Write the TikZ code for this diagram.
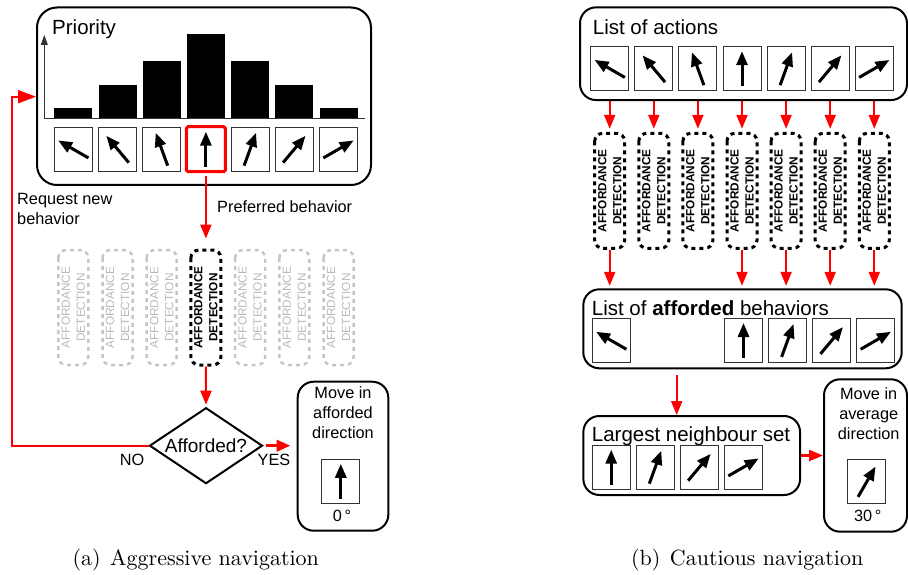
\documentclass[tikz,border=0pt]{standalone}
\usepackage{fontspec}
\setsansfont{Liberation Sans}
\newfontfamily\capfont{lmroman10-regular.otf}
\usetikzlibrary{arrows.meta,positioning,calc,shapes.geometric}
\newcommand{\bigtxt}{\sffamily\fontsize{20.5}{24}\selectfont}
\newcommand{\midtxt}{\sffamily\fontsize{16.3}{20}\selectfont}
\newcommand{\afftxt}{\sffamily\bfseries\fontsize{11.8}{15}\selectfont}
\newcommand{\captxt}{\capfont\fontsize{22}{26}\selectfont}
\newcommand{\dirarrow}[2]{%
  \draw[dir] ($(#1)+({270-(#2)}:17.5pt)$) -- ($(#1)+({90-(#2)}:17.5pt)$);}
\tikzset{
  >={Triangle[length=14pt,width=11pt]},
  panel/.style ={draw, line width=2pt, rounded corners=16pt, inner sep=0pt},
  actbox/.style={draw=black!80, line width=0.9pt, minimum width=38pt,
                 minimum height=44pt, inner sep=0pt},
  pick/.style  ={draw=red, line width=3pt, rounded corners=1.5pt},
  affon/.style ={draw, line width=3pt, dash pattern=on 4pt off 4pt,
                 rounded corners=8pt, rotate=90, minimum width=115pt,
                 minimum height=30pt, inner sep=0pt, align=center, font=\afftxt},
  affoff/.style={affon, draw=gray!45, text=gray!55, line width=2.5pt,
                 font=\afftxt\mdseries},
  dir/.style   ={-{Triangle[length=14pt,width=11pt]}, line width=3pt},
  flow/.style  ={->, draw=red, line width=2pt},
  lbl/.style   ={font=\midtxt, inner sep=0pt},
}
\begin{document}
\begin{tikzpicture}[x=1pt,y=-1pt]
\useasboundingbox (0,0) rectangle (908,575);
% ---- (a) aggressive navigation --------------------------------------
\node[panel, rounded corners=20pt, minimum width=334pt, minimum height=177.5pt] (prio) at (204,96.25) {};
\node[font=\bigtxt, anchor=base west, inner sep=0pt] (prioT) at (52,34.3) {Priority};
\coordinate (orig) at (44.3,118.3);
\draw[line width=0.8pt, black!80, -{Triangle[length=10pt,width=7pt]}] (orig) -- ++(0,-83.3);
\draw[line width=0.8pt, black!80] (orig) -- ++(320.7,0);
\foreach \i/\h in {1/10.6,2/33.3,3/57.6,4/84,5/57.6,6/33.3,7/10.6}
  \fill ({73.3+44.2*(\i-1)-19},118.3) rectangle ++(38,-\h);
\foreach \i/\a in {1/-60,2/-40,3/-20,4/0,5/20,6/40,7/60} {
  \node[actbox] (actL\i) at ({73.3+44.2*(\i-1)},149.2) {};
  \dirarrow{actL\i}{\a}
}
\draw[pick] (actL4.south west) rectangle (actL4.north east);

% affordance detectors, only the preferred one is active
\foreach \i in {1,2,3,5,6,7}
  \node[affoff] (affL\i) at ({73.3+44.2*(\i-1)},307.5) {AFFORDANCE\\DETECTION};
\node[affon] (affL4) at (205.9,307.5) {AFFORDANCE\\DETECTION};
\draw[flow, shorten <=4pt, shorten >=10pt] (actL4) -- (affL4);
\node[lbl, anchor=base west] (prefT) at (217,212) {Preferred behavior};

\node[diamond, draw, line width=2pt, aspect=1.49, minimum width=113pt,
      minimum height=76pt, inner sep=0pt, font=\sffamily\fontsize{19}{22}\selectfont]
      (dia) at (206,445.7) {Afforded?};
\draw[flow, shorten >=2pt] (affL4) -- (dia);
\coordinate (reqC) at (12.3,96.7);
\draw[flow, -{Triangle[length=18pt,width=13pt]}] (dia.west) -| (reqC) -- (prio.west |- reqC);
\node[lbl, anchor=north west, align=left] (reqT) at (17,193.5) {Request new\\behavior};
\node[lbl, anchor=base] (noT) at (132,465) {NO};
\node[lbl, anchor=base] (yesT) at (274,465) {YES};

\node[panel, minimum width=90.6pt, minimum height=149pt] (mv) at (343,456.2) {};
\node[lbl, anchor=north, align=center] (mvT) at (343,386.8) {Move in\\afforded\\direction};
\node[actbox] (mvA) at (340.8,481.3) {};
\dirarrow{mvA}{0}
\node[lbl, anchor=base] (mvD) at (342,521.7) {0\,°};
\draw[flow, line width=3.5pt, shorten <=2pt, shorten >=6pt] (dia.east) -- (dia.east -| mv.west);

\node[font=\captxt, anchor=base, inner sep=0pt] (capA) at (195.8,565) {(a)\hspace{0.43em}Aggressive navigation};

% ---- (b) cautious navigation ----------------------------------------
\node[panel, minimum width=327pt, minimum height=92.7pt] (acts) at (743.5,53.7) {};
\node[font=\bigtxt, anchor=base west, inner sep=0pt] (actsT) at (592.7,34.3) {List of actions};
\foreach \i/\a in {1/-60,2/-40,3/-20,4/0,5/20,6/40,7/60} {
  \node[actbox] (actR\i) at ({609.7+44.1*(\i-1)},68.7) {};
  \dirarrow{actR\i}{\a}
  \node[affon] (affR\i) at ({609.7+44.1*(\i-1)},190.8) {AFFORDANCE\\DETECTION};
  \draw[flow, shorten >=3pt] (actR\i |- acts.south) -- (affR\i);
}

\node[panel, minimum width=318.4pt, minimum height=79pt] (afd) at (742.5,328.8) {};
\node[font=\bigtxt, anchor=base west, inner sep=0pt] (afdT) at (591.7,315) {List of \textbf{afforded} behaviors};
\foreach \i/\a in {1/-60,4/0,5/20,6/40,7/60} {
  \node[actbox] (afdA\i) at ({611.2+44.1*(\i-1)},340.5) {};
  \dirarrow{afdA\i}{\a}
  \draw[flow, shorten >=2.5pt] (affR\i) -- (affR\i |- afd.north);
}

\node[panel, minimum width=216.7pt, minimum height=79pt] (lg) at (691.7,455.5) {};
\node[font=\bigtxt, anchor=base west, inner sep=0pt] (lgT) at (591.7,441.7) {Largest neighbour set};
\foreach \i/\a in {1/0,2/20,3/40,4/60} {
  \node[actbox] (lgA\i) at ({611.2+44.1*(\i-1)},467.2) {};
  \dirarrow{lgA\i}{\a}
}
\draw[flow, shorten <=6pt] ([xshift=-65.8pt]afd.south) -- ([xshift=-65.8pt]afd.south |- lg.north);

\node[panel, minimum width=83pt, minimum height=152.4pt] (avg) at (865.5,455.5) {};
\node[lbl, anchor=north, align=center] (avgT) at (868.7,387.8) {Move in\\average\\direction};
\node[actbox] (avgA) at (866.8,481.7) {};
\dirarrow{avgA}{30}
\node[lbl, anchor=base] (avgD) at (867.8,521.7) {30\,°};
\draw[flow, line width=2.5pt] (lg) -- (avg);

\node[font=\captxt, anchor=base, inner sep=0pt] (capB) at (747.2,565) {(b)\hspace{0.43em}Cautious navigation};
\end{tikzpicture}
\end{document}
